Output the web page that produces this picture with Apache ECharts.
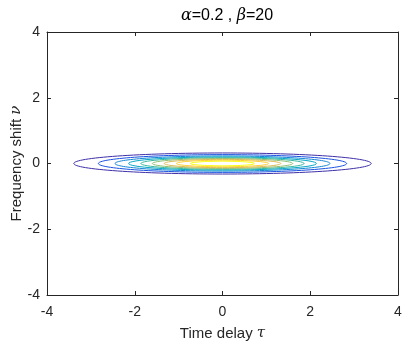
<!DOCTYPE html>
<html><head><meta charset="utf-8">
<script src="https://cdn.jsdelivr.net/npm/echarts@6/dist/echarts.min.js"></script>
<style>html,body{margin:0;padding:0;background:#fff}#c{width:402px;height:342px}</style>
</head><body><div id="c"></div>
<script>
// contour levels: half width along tau, half height along nu
const levels   =[0.1,0.2,0.3,0.4,0.5,0.6,0.7,0.8,0.9];
const halfTau  =[3.39,2.83,2.45,2.14,1.86,1.60,1.33,1.05,0.73];
const halfNu   =[0.32,0.27,0.23,0.20,0.176,0.151,0.126,0.10,0.07];
const colors   =['#3e2fa8','#1a52e0','#1485d4','#06a7c6','#38b99e','#92bf73','#d9ba56','#fcce2e','#f9fb0e'];
const ticks    =[-4,-2,0,2,4];

const AX='#262626', F="Arial,'Liberation Sans',Helvetica,sans-serif", SERIF="'DejaVu Serif',serif";
const chart=echarts.init(document.getElementById('c'));
const data=levels.map((l,i)=>[halfTau[i],halfNu[i],l,i]);
const base={min:ticks[0],max:ticks[ticks.length-1],interval:2,splitLine:{show:false},
  axisLine:{onZero:false,lineStyle:{color:AX,width:1}},
  axisTick:{inside:true,length:4,lineStyle:{color:AX}}};
chart.setOption({
  animation:false,
  title:{text:'{g|α}=0.2 , {g|β}=20',left:222,top:3,textAlign:'center',
    textStyle:{fontFamily:F,fontSize:16,fontWeight:'normal',color:'#000',
      rich:{g:{fontFamily:SERIF,fontStyle:'italic',fontSize:16,color:'#000'}}}},
  grid:{left:47,right:4,top:32,bottom:47,outerBoundsMode:'none'},
  xAxis:[
    Object.assign({type:'value',position:'bottom',name:'Time delay {g|τ}',nameLocation:'middle',nameGap:31,nameMoveOverlap:false,
      nameTextStyle:{fontFamily:F,fontSize:15,color:AX,rich:{g:{fontFamily:SERIF,fontStyle:'italic',fontSize:15,color:AX}}},
      axisLabel:{fontFamily:F,fontSize:14,color:AX,margin:10}},base),
    Object.assign({type:'value',position:'top',axisLabel:{show:false}},base)
  ],
  yAxis:[
    Object.assign({type:'value',position:'left',name:'Frequency shift {g|ν}',nameLocation:'middle',nameGap:23,nameMoveOverlap:false,
      nameTextStyle:{fontFamily:F,fontSize:15,color:AX,rich:{g:{fontFamily:SERIF,fontStyle:'italic',fontSize:15,color:AX}}},
      axisLabel:{fontFamily:F,fontSize:14,color:AX,margin:7}},base),
    Object.assign({type:'value',position:'right',axisLabel:{show:false}},base)
  ],
  series:[{
    type:'custom',coordinateSystem:'cartesian2d',data:data,silent:true,
    renderItem:(params,api)=>{
      const c=api.coord([0,0]);
      const s=api.size([api.value(0),api.value(1)]);
      return {type:'ellipse',shape:{cx:c[0],cy:c[1],rx:s[0],ry:s[1]},
        style:{fill:null,stroke:colors[api.value(3)],lineWidth:1}};
    }
  }]
});
</script></body></html>
